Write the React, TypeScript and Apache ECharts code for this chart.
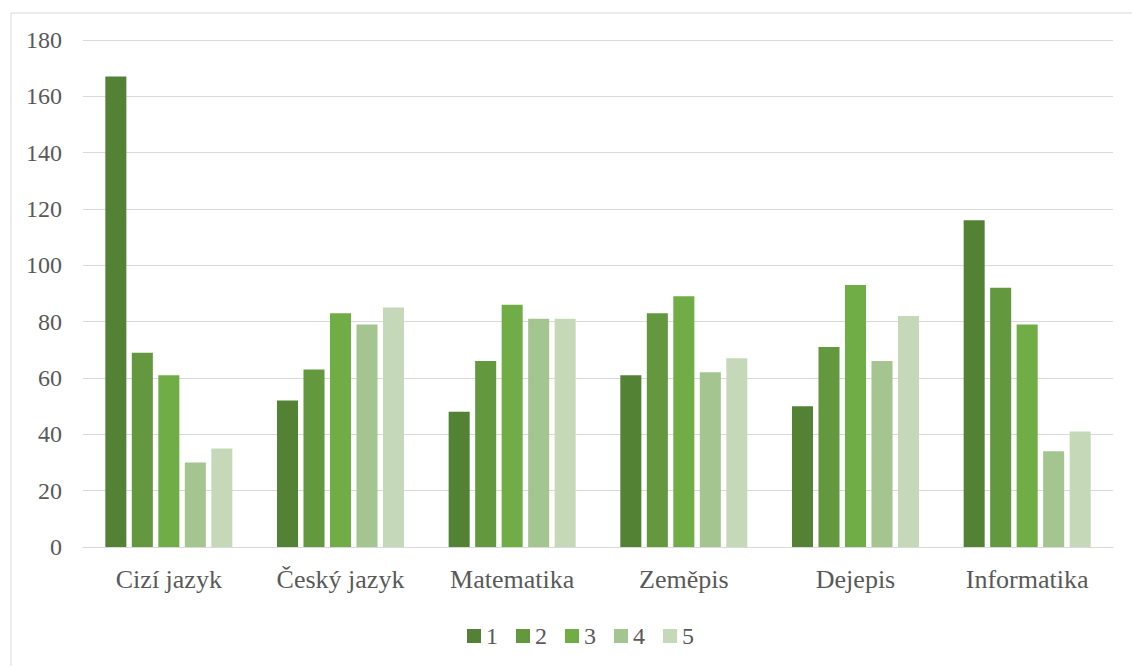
import React, { useEffect, useRef } from "react";
import * as echarts from "echarts";

// Subjects along the x axis
const subjects = ["Cizí jazyk", "Český jazyk", "Matematika", "Zeměpis", "Dejepis", "Informatika"];

// Counts per grade (1–5) for each subject
const grade1 = [167, 52, 48, 61, 50, 116];
const grade2 = [69, 63, 66, 83, 71, 92];
const grade3 = [61, 83, 86, 89, 93, 79];
const grade4 = [30, 79, 81, 62, 66, 34];
const grade5 = [35, 85, 81, 67, 82, 41];

const gradeNames = ["1", "2", "3", "4", "5"];
const gradeColors = ["#548235", "#63983f", "#70ad47", "#a5c590", "#c5d9b9"];

const FONT = "'Liberation Serif', 'Times New Roman', serif";
const TEXT = "#595959";
const GRID = "#d9d9d9";

export default function App() {
  const ref = useRef<HTMLDivElement>(null);

  useEffect(() => {
    document.body.style.margin = "0";
    if (!ref.current) return;
    const chart = echarts.init(ref.current, undefined, { renderer: "svg" });
    const values = [grade1, grade2, grade3, grade4, grade5];

    chart.setOption({
      animation: false,
      backgroundColor: "#ffffff",
      textStyle: { fontFamily: FONT, color: TEXT },
      graphic: [
        {
          type: "rect",
          left: 8.5,
          top: 10.5,
          shape: { width: 1200, height: 700 },
          style: { fill: "none", stroke: GRID, lineWidth: 1 },
          silent: true,
        },
      ],
      grid: { left: 83, right: 19, top: 40, bottom: 119, containLabel: false },
      legend: {
        left: 462,
        top: 619,
        itemWidth: 14,
        itemHeight: 14,
        itemGap: 18,
        icon: "rect",
        textStyle: { fontFamily: FONT, fontSize: 24, color: TEXT },
        data: gradeNames,
      },
      xAxis: {
        type: "category",
        data: subjects,
        axisLine: { lineStyle: { color: GRID, width: 1 } },
        axisTick: { show: false },
        axisLabel: { fontFamily: FONT, fontSize: 26, color: TEXT, margin: 19 },
      },
      yAxis: {
        type: "value",
        min: 0,
        max: 180,
        interval: 20,
        axisLine: { show: false },
        axisTick: { show: false },
        splitLine: { lineStyle: { color: GRID, width: 1 } },
        axisLabel: { fontFamily: FONT, fontSize: 24, color: TEXT, margin: 21 },
      },
      series: values.map((data, i) => ({
        name: gradeNames[i],
        type: "bar",
        data,
        barGap: "26%",
        barCategoryGap: "26%",
        itemStyle: { color: gradeColors[i] },
      })),
    });

    return () => chart.dispose();
  }, []);

  return <div ref={ref} style={{ width: 1132, height: 666 }} />;
}
